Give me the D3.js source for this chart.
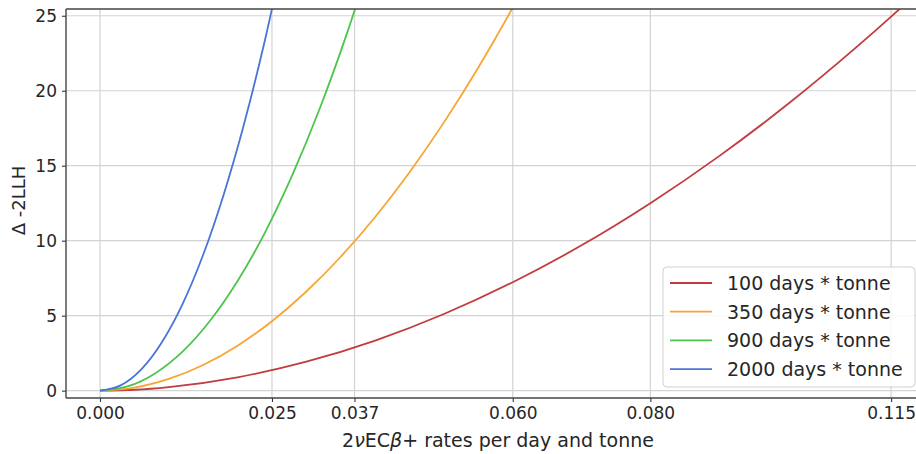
<!DOCTYPE html>
<html>
<head>
<meta charset="utf-8">
<script src="https://cdn.jsdelivr.net/npm/d3@7"></script>
<style>
  html, body { margin: 0; padding: 0; background: #fff; }
  svg { display: block; font-family: "DejaVu Sans", sans-serif; }
</style>
</head>
<body>
<svg id="chart" width="916" height="454"></svg>
<script>
// Exposure levels shown in the legend
const exposures = ["100 days * tonne", "350 days * tonne", "900 days * tonne", "2000 days * tonne"];
const colors = ["#c23b3f", "#f7a535", "#4cc54c", "#4a75d8"];

// Δ -2LLH profiles: [rate per day and tonne, Δ -2LLH]
const curve100 = [[0, 0], [0.005, 0.06], [0.01, 0.24], [0.02, 0.89], [0.03, 1.93], [0.04, 3.34],
  [0.05, 5.11], [0.06, 7.23], [0.07, 9.69], [0.08, 12.5], [0.09, 15.64], [0.10, 19.11],
  [0.11, 22.92], [0.115, 24.94], [0.12, 27.05]];
const curve350 = [[0, 0], [0.005, 0.2], [0.01, 0.78], [0.015, 1.71], [0.02, 3.0], [0.025, 4.63],
  [0.03, 6.61], [0.035, 8.93], [0.04, 11.58], [0.045, 14.57], [0.05, 17.89], [0.055, 21.55],
  [0.06, 25.54], [0.065, 29.85]];
const curve900 = [[0, 0], [0.004, 0.28], [0.008, 1.15], [0.012, 2.6], [0.016, 4.66], [0.02, 7.31],
  [0.024, 10.56], [0.028, 14.42], [0.032, 18.88], [0.036, 23.96], [0.04, 29.64]];
const curve2000 = [[0, 0], [0.003, 0.35], [0.006, 1.42], [0.009, 3.23], [0.012, 5.77], [0.015, 9.06],
  [0.018, 13.1], [0.021, 17.88], [0.024, 23.42], [0.027, 29.71]];
const curves = [curve100, curve350, curve900, curve2000];

// Axis ticks
const xTicks = [0.000, 0.025, 0.037, 0.060, 0.080, 0.115];
const yTicks = [0, 5, 10, 15, 20, 25];

const svg = d3.select("#chart");
const pLeft = 66, pTop = 9, pBottom = 398, pRight = 930;

const x = d3.scaleLinear().domain([-0.00494, 0.12065]).range([pLeft, pRight]);
const y = d3.scaleLinear().domain([-0.49, 25.45]).range([pBottom, pTop]);

svg.append("defs").append("clipPath").attr("id", "plotClip")
  .append("rect").attr("x", pLeft).attr("y", pTop)
  .attr("width", pRight - pLeft).attr("height", pBottom - pTop);

// grid
const grid = svg.append("g").attr("stroke", "#d3d3d3").attr("stroke-width", 1.2);
grid.selectAll("line.gx").data(xTicks).join("line").attr("class", "gx")
  .attr("x1", d => x(d)).attr("x2", d => x(d)).attr("y1", pTop).attr("y2", pBottom);
grid.selectAll("line.gy").data(yTicks).join("line").attr("class", "gy")
  .attr("y1", d => y(d)).attr("y2", d => y(d)).attr("x1", pLeft).attr("x2", pRight);

// curves
const line = d3.line().x(d => x(d[0])).y(d => y(d[1])).curve(d3.curveMonotoneX);
svg.append("g").attr("clip-path", "url(#plotClip)")
  .selectAll("path").data(curves).join("path")
  .attr("d", line).attr("fill", "none")
  .attr("stroke", (d, i) => colors[i]).attr("stroke-width", 1.8);

// axes
const xAxis = d3.axisBottom(x).tickValues(xTicks).tickFormat(d3.format(".3f")).tickSize(4).tickPadding(5);
const yAxis = d3.axisLeft(y).tickValues(yTicks).tickFormat(d3.format("d")).tickSize(4).tickPadding(5);

const gx = svg.append("g").attr("transform", `translate(0,${pBottom})`).call(xAxis);
const gy = svg.append("g").attr("transform", `translate(${pLeft},0)`).call(yAxis);
[gx, gy].forEach(g => {
  g.select(".domain").remove();
  g.selectAll(".tick line").attr("stroke", "#333").attr("stroke-width", 1.1);
  g.selectAll(".tick text").attr("fill", "#262626").attr("font-size", 17)
    .attr("font-family", "DejaVu Sans, sans-serif");
});

// spines
const spines = svg.append("g").attr("stroke", "#444").attr("stroke-width", 1.4).attr("fill", "none");
spines.append("line").attr("x1", pLeft).attr("x2", pLeft).attr("y1", pTop).attr("y2", pBottom);
spines.append("line").attr("x1", pLeft).attr("x2", pRight).attr("y1", pBottom).attr("y2", pBottom);
spines.append("line").attr("x1", pLeft).attr("x2", pRight).attr("y1", pTop).attr("y2", pTop);
spines.append("line").attr("x1", pRight).attr("x2", pRight).attr("y1", pTop).attr("y2", pBottom);

// axis titles
const xl = svg.append("text").attr("x", (pLeft + pRight) / 2).attr("y", 447)
  .attr("text-anchor", "middle").attr("font-size", 19).attr("fill", "#262626");
xl.append("tspan").text("2");
xl.append("tspan").attr("font-style", "italic").text("ν");
xl.append("tspan").text("EC");
xl.append("tspan").attr("font-style", "italic").text("β");
xl.append("tspan").text("+ rates per day and tonne");

svg.append("text").attr("transform", `translate(25,${(pTop + pBottom) / 2 - 3}) rotate(-90)`)
  .attr("text-anchor", "middle").attr("font-size", 18).attr("fill", "#262626")
  .text("Δ -2LLH");

// legend
const lg = svg.append("g");
lg.append("rect").attr("x", 663).attr("y", 267).attr("width", 252).attr("height", 120)
  .attr("rx", 4).attr("fill", "#fff").attr("fill-opacity", 0.85)
  .attr("stroke", "#d0d0d0").attr("stroke-width", 1);
const rows = lg.selectAll("g.row").data(exposures).join("g").attr("class", "row")
  .attr("transform", (d, i) => `translate(0,${283 + i * 28.7})`);
rows.append("line").attr("x1", 670).attr("x2", 712).attr("y1", 0).attr("y2", 0)
  .attr("stroke", (d, i) => colors[i]).attr("stroke-width", 1.8);
rows.append("text").attr("x", 727).attr("y", 7).attr("font-size", 19).attr("fill", "#262626")
  .text(d => d);
</script>
</body>
</html>
